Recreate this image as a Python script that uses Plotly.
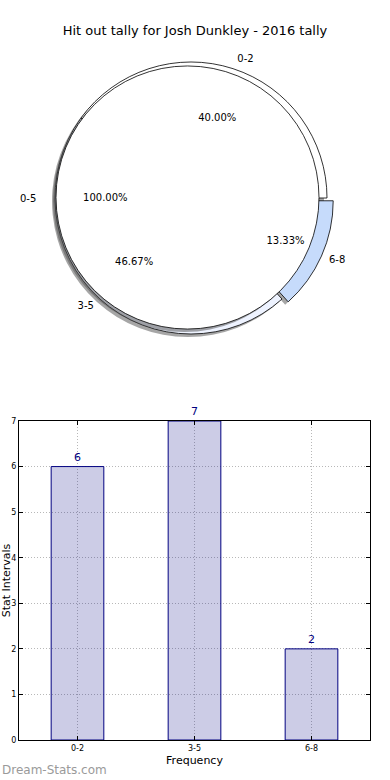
import plotly.graph_objects as go

W, H = 390, 780

chart_title = "Hit out tally for Josh Dunkley - 2016 tally"
categories = ["0-2", "3-5", "6-8"]
frequency = [6, 7, 2]
combined_label = ["0-5"]
combined_value = [sum(frequency)]
y_title = "Stat Intervals"
x_title = "Frequency"
watermark = "Dream-Stats.com"

slice_colors = ["#ffffff", "#eef3ff", "#c6dbfb"]
pulls = [0, 0, 0.05]

FONT = "DejaVu Sans"
ocx, ocy = 191, 198      # outer pie centre (px)
icx, icy = 187.5, 197.5  # inner pie centre (px)
r_out = 136
r_in = 131.5
half_out = r_out * (1 + max(pulls))

# plotly counterclockwise pies: first slice starts at (rotation + first share) clockwise from 12 o'clock;
# start every pie at 3 o'clock like matplotlib's default
rot_outer = 90 - 360 * frequency[0] / sum(frequency)
rot_inner = 90 - 360


def dom(x0, y0, half):
    return dict(x=[(x0 - half) / W, (x0 + half) / W],
                y=[1 - (y0 + half) / H, 1 - (y0 - half) / H])


clear = "rgba(0,0,0,0)"
shadow = "rgba(77,77,77,0.5)"
common = dict(sort=False, direction="counterclockwise",
              hoverinfo="skip", showlegend=False)

fig = go.Figure()

# outer pie shadow
fig.add_trace(go.Pie(labels=categories, values=frequency, pull=pulls, rotation=rot_outer,
                     domain=dom(ocx - 3, ocy + 3, half_out), textinfo="none",
                     marker=dict(colors=[shadow] * 3, line=dict(width=0)), **common))
# outer pie
fig.add_trace(go.Pie(labels=categories, values=frequency, pull=pulls, rotation=rot_outer,
                     domain=dom(ocx, ocy, half_out), textinfo="none",
                     marker=dict(colors=slice_colors, line=dict(color="black", width=0.8)),
                     **common))
# inner pie shadow
fig.add_trace(go.Pie(labels=combined_label, values=combined_value, rotation=rot_inner,
                     domain=dom(icx - 3, icy + 3, r_in), textinfo="none",
                     marker=dict(colors=[shadow], line=dict(width=0)), **common))
# inner pie
fig.add_trace(go.Pie(labels=combined_label, values=combined_value, rotation=rot_inner,
                     domain=dom(icx, icy, r_in), textinfo="none",
                     marker=dict(colors=["#ffffff"], line=dict(color="black", width=0.8)),
                     **common))
# text overlays: outer percentages
fig.add_trace(go.Pie(labels=categories, values=frequency, pull=pulls, hole=0.25,
                     rotation=rot_outer,
                     domain=dom(ocx, ocy, half_out), texttemplate="%{percent:.2%}",
                     textposition="inside", insidetextorientation="horizontal",
                     textfont=dict(family=FONT, size=10, color="black"),
                     marker=dict(colors=[clear] * 3, line=dict(width=0)), **common))
# outer labels
fig.add_trace(go.Pie(labels=categories, values=frequency, pull=pulls, rotation=rot_outer,
                     domain=dom(ocx, ocy, 141 * (1 + max(pulls))), texttemplate="%{label}",
                     textposition="outside",
                     outsidetextfont=dict(family=FONT, size=10, color="black"),
                     marker=dict(colors=[clear] * 3, line=dict(width=0)), **common))
# inner label + percentage
fig.add_trace(go.Pie(labels=combined_label, values=combined_value, rotation=rot_inner,
                     domain=dom(189, 198, 150), texttemplate="%{label}",
                     textposition="outside",
                     outsidetextfont=dict(family=FONT, size=10, color="black"),
                     marker=dict(colors=[clear], line=dict(width=0)), **common))
fig.add_trace(go.Pie(labels=combined_label, values=combined_value, hole=0.25,
                     rotation=rot_inner,
                     domain=dom(icx, icy, r_in), texttemplate="%{percent:.2%}",
                     textposition="inside", insidetextorientation="horizontal",
                     insidetextfont=dict(family=FONT, size=10, color="black"),
                     marker=dict(colors=[clear], line=dict(width=0)), **common))

# bar chart
fig.add_trace(go.Bar(x=categories, y=frequency, width=0.45,
                     marker=dict(color="rgba(0,0,128,0.2)", line=dict(color="#000080", width=1)),
                     text=frequency, textposition="outside", cliponaxis=False,
                     textfont=dict(family=FONT, size=11, color="#000080"),
                     showlegend=False, hoverinfo="skip"))

grid = dict(showgrid=True, gridcolor="#b8b8b8", griddash="1px,2px", gridwidth=1)
fig.update_layout(
    width=W, height=H, margin=dict(l=0, r=0, t=0, b=0),
    paper_bgcolor="white", plot_bgcolor="white",
    font=dict(family=FONT, color="black"),
    title=dict(text=chart_title, x=0.5, xanchor="center", y=1 - 30 / H, yanchor="middle",
               font=dict(family=FONT, size=13, color="black")),
    xaxis=dict(domain=[19 / W, 370 / W], range=[-0.5, 2.5], type="category",
               showline=True, linecolor="black", linewidth=1, mirror="ticks",
               ticks="inside", ticklen=4, tickcolor="black",
               tickfont=dict(family=FONT, size=8, color="black"),
               title=dict(text=x_title, standoff=4, font=dict(family=FONT, size=11)),
               automargin=False, zeroline=False, **grid),
    yaxis=dict(domain=[1 - 740 / H, 1 - 421 / H], range=[0, 7], dtick=1,
               showline=True, linecolor="black", linewidth=1, mirror="ticks",
               ticks="inside", ticklen=4, tickcolor="black",
               tickfont=dict(family=FONT, size=8, color="black"),
               title=dict(text=y_title, standoff=0, font=dict(family=FONT, size=11)),
               automargin=False, zeroline=False, **grid),
    annotations=[dict(text=watermark, xref="paper", yref="paper", x=0, y=1 - 770 / H,
                      xanchor="left", yanchor="middle", showarrow=False,
                      font=dict(family=FONT, size=12, color="#9a9a9a"))],
)

fig.write_html("out.html", config={"displayModeBar": False},
               post_script="document.body.style.margin='0';")
